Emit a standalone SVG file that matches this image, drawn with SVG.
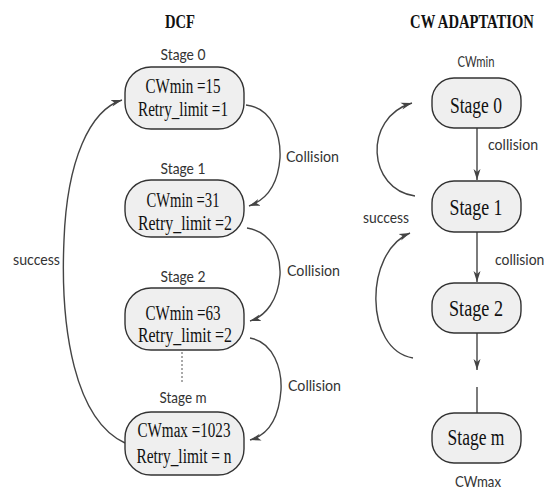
<svg xmlns="http://www.w3.org/2000/svg" width="547" height="493" viewBox="0 0 547 493">
<style>
.node{fill:#efefef;stroke:#333;stroke-width:1.4}
.ser{font-family:"Liberation Serif","Times New Roman",serif;fill:#111;text-anchor:middle}
.title{font-family:"Liberation Serif","Times New Roman",serif;font-weight:bold;fill:#111;font-size:19px;text-anchor:middle}
.lab{font-family:Lato,"Open Sans","Liberation Sans",sans-serif;fill:#333;font-size:16px}
.c{text-anchor:middle}
.conn{fill:none;stroke:#444;stroke-width:1.4}
</style>
<defs>
<marker id="arr" markerUnits="userSpaceOnUse" markerWidth="12" markerHeight="8" refX="11" refY="4" orient="auto">
<path d="M0,0.5 L11,4 L0,7.5 L3,4 z" fill="#444"/>
</marker>
</defs>
<rect width="547" height="493" fill="#fff"/>

<text class="title" x="180" y="28" textLength="30" lengthAdjust="spacingAndGlyphs">DCF</text>
<text class="title" transform="translate(472,28) scale(0.77,1)" x="0" y="0">CW ADAPTATION</text>

<g id="connectors">
<path class="conn" marker-end="url(#arr)" d="M125,443 C75,420 60,330 64,240 C67,160 90,110 122,100"/>
<path class="conn" marker-end="url(#arr)" d="M246,105 C272,108 281,135 280,158 C278,185 266,200 249,206"/>
<path class="conn" marker-end="url(#arr)" d="M247,228 C272,232 281,255 280,275 C278,300 266,316 250,321"/>
<path class="conn" marker-end="url(#arr)" d="M250,338 C274,342 282,370 281,390 C279,418 268,435 250,440"/>
<line x1="182" y1="352" x2="182" y2="382" stroke="#555" stroke-width="1" stroke-dasharray="2,2"/>
<line class="conn" x1="477" y1="128" x2="477" y2="180" marker-end="url(#arr)"/>
<line class="conn" x1="477" y1="232" x2="477" y2="282" marker-end="url(#arr)"/>
<line class="conn" x1="477" y1="333" x2="477" y2="370" marker-end="url(#arr)"/>
<line class="conn" x1="477" y1="387" x2="477" y2="413"/>
<path class="conn" marker-end="url(#arr)" d="M415,196 C368,190 362,118 412,103"/>
<path class="conn" marker-end="url(#arr)" d="M413,358 C364,350 364,252 410,233"/>
</g>

<text class="lab" x="13" y="265" textLength="47" lengthAdjust="spacingAndGlyphs">success</text>
<text class="lab" x="286" y="162" textLength="53" lengthAdjust="spacingAndGlyphs">Collision</text>
<text class="lab" x="287" y="276" textLength="53" lengthAdjust="spacingAndGlyphs">Collision</text>
<text class="lab" x="288" y="391" textLength="53" lengthAdjust="spacingAndGlyphs">Collision</text>
<text class="lab" x="488" y="150" textLength="50" lengthAdjust="spacingAndGlyphs">collision</text>
<text class="lab" transform="translate(495,265) scale(0.87,1)" x="0" y="0">collision</text>
<text class="lab" x="363" y="223" textLength="46" lengthAdjust="spacingAndGlyphs">success</text>

<g id="dcf-stage0">
<text class="lab c" x="183" y="60" textLength="45" lengthAdjust="spacingAndGlyphs">Stage 0</text>
<rect class="node" x="125" y="67" width="119" height="62" rx="26" ry="26"/>
<text class="ser" x="183" y="93" font-size="20" textLength="75" lengthAdjust="spacingAndGlyphs">CWmin =15</text>
<text class="ser" x="183" y="116" font-size="20" textLength="90" lengthAdjust="spacingAndGlyphs">Retry_limit =1</text>
</g>
<g id="dcf-stage1">
<text class="lab c" x="183" y="174" textLength="45" lengthAdjust="spacingAndGlyphs">Stage 1</text>
<rect class="node" x="125" y="180" width="119" height="57" rx="26" ry="26"/>
<text class="ser" x="183" y="207" font-size="20" textLength="73" lengthAdjust="spacingAndGlyphs">CWmin =31</text>
<text class="ser" x="185" y="230" font-size="20" textLength="94" lengthAdjust="spacingAndGlyphs">Retry_limit =2</text>
</g>
<g id="dcf-stage2">
<text class="lab c" x="183" y="282" textLength="45" lengthAdjust="spacingAndGlyphs">Stage 2</text>
<rect class="node" x="125" y="288" width="119" height="62" rx="26" ry="26"/>
<text class="ser" x="183" y="320" font-size="20" textLength="75" lengthAdjust="spacingAndGlyphs">CWmin =63</text>
<text class="ser" x="185" y="342" font-size="20" textLength="94" lengthAdjust="spacingAndGlyphs">Retry_limit =2</text>
</g>
<g id="dcf-stagem">
<text class="lab c" x="183" y="403" textLength="47" lengthAdjust="spacingAndGlyphs">Stage m</text>
<rect class="node" x="125" y="412" width="119" height="63" rx="26" ry="26"/>
<text class="ser" x="184" y="437" font-size="20" textLength="93" lengthAdjust="spacingAndGlyphs">CWmax =1023</text>
<text class="ser" x="184" y="463" font-size="20" textLength="95" lengthAdjust="spacingAndGlyphs">Retry_limit = n</text>
</g>

<g id="cw-stage0">
<text class="lab c" x="476" y="67" textLength="37" lengthAdjust="spacingAndGlyphs">CWmin</text>
<rect class="node" x="432" y="78" width="89" height="50" rx="22" ry="22"/>
<text class="ser" x="476" y="113" font-size="24" textLength="52" lengthAdjust="spacingAndGlyphs">Stage 0</text>
</g>
<g id="cw-stage1">
<rect class="node" x="432" y="181" width="89" height="51" rx="22" ry="22"/>
<text class="ser" x="476" y="215" font-size="24" textLength="53" lengthAdjust="spacingAndGlyphs">Stage 1</text>
</g>
<g id="cw-stage2">
<rect class="node" x="432" y="283" width="89" height="50" rx="22" ry="22"/>
<text class="ser" x="476" y="316" font-size="24" textLength="54" lengthAdjust="spacingAndGlyphs">Stage 2</text>
</g>
<g id="cw-stagem">
<rect class="node" x="432" y="413" width="89" height="50" rx="22" ry="22"/>
<text class="ser" x="476" y="445" font-size="24" textLength="57" lengthAdjust="spacingAndGlyphs">Stage m</text>
<text class="lab c" x="478" y="487" textLength="46" lengthAdjust="spacingAndGlyphs">CWmax</text>
</g>
</svg>
